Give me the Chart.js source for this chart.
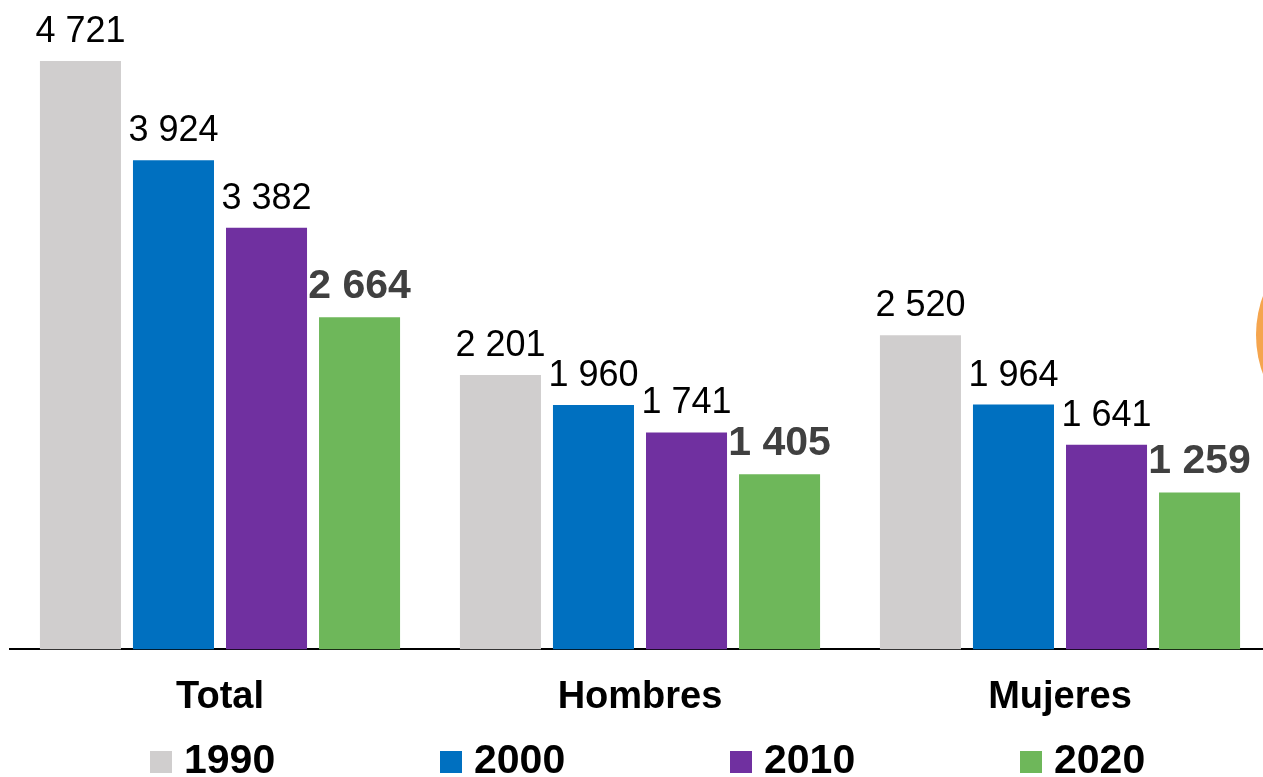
<!DOCTYPE html>
<html>
<head>
<meta charset="utf-8">
<script src="https://cdn.jsdelivr.net/npm/chart.js@4"></script>
<style>
  html, body { margin: 0; padding: 0; background: #fff; overflow: hidden; }
  #wrap { width: 1270px; height: 777px; position: relative; }
</style>
</head>
<body>
<div id="wrap"><canvas id="chart"></canvas></div>
<script>
'use strict';

// categories and series
const categories = ['Total', 'Hombres', 'Mujeres'];
const years = ['1990', '2000', '2010', '2020'];

const values1990 = [4721, 2201, 2520];
const values2000 = [3924, 1960, 1964];
const values2010 = [3382, 1741, 1641];
const values2020 = [2664, 1405, 1259];

const colors = ['#D0CECE', '#0070C0', '#7030A0', '#6EB75A'];

const FONT = 'Arial, "Liberation Sans", sans-serif';

function formatNum(v) {
  return v.toString().replace(/\B(?=(\d{3})+(?!\d))/g, ' ');
}

// value labels over the bars
const barLabels = {
  id: 'barLabels',
  afterDatasetsDraw(chart) {
    let ctx = chart.ctx;
    ctx.save();
    ctx.textAlign = 'center';
    ctx.textBaseline = 'alphabetic';
    chart.data.datasets.forEach((ds, i) => {
      let meta = chart.getDatasetMeta(i);
      let last = i === chart.data.datasets.length - 1;
      ctx.font = last ? 'bold 41px ' + FONT : '36px ' + FONT;
      ctx.fillStyle = last ? '#404040' : '#000';
      meta.data.forEach((bar, j) => {
        ctx.fillText(formatNum(ds.data[j]), bar.x, bar.y - 19);
      });
    });
    ctx.restore();
  }
};

// legend along the bottom, spaced like the original slide
const bottomLegend = {
  id: 'bottomLegend',
  afterDraw(chart) {
    let ctx = chart.ctx;
    ctx.save();
    ctx.font = 'bold 41px ' + FONT;
    ctx.textBaseline = 'middle';
    ctx.textAlign = 'left';
    let startX = 150;
    let pitch = 290;
    chart.data.datasets.forEach((ds, i) => {
      let x = startX + i * pitch;
      ctx.fillStyle = ds.backgroundColor;
      ctx.fillRect(x, 751, 22, 22);
      ctx.fillStyle = '#000';
      ctx.fillText(ds.label, x + 34, 762);
    });
    // piece of the neighbouring slide shape at the right edge
    ctx.fillStyle = '#F5A54E';
    ctx.beginPath();
    ctx.arc(1370, 335, 114, 0, Math.PI * 2);
    ctx.fill();
    ctx.restore();
  }
};

const allSeries = [values1990, values2000, values2010, values2020];

let datasets = [];
for (let i = 0; i < years.length; i++) {
  datasets.push({
    label: years[i],
    data: allSeries[i],
    backgroundColor: colors[i],
    borderWidth: 0,
    categoryPercentage: 0.886,
    barPercentage: 0.871
  });
}

new Chart(document.getElementById('chart'), {
  type: 'bar',
  data: { labels: categories, datasets: datasets },
  plugins: [barLabels, bottomLegend],
  options: {
    responsive: true,
    maintainAspectRatio: false,
    animation: false,
    layout: { padding: { left: 10, right: 0, top: 0, bottom: 32 } },
    plugins: {
      legend: { display: false },
      tooltip: { enabled: false }
    },
    scales: {
      x: {
        grid: { display: false, drawTicks: false },
        border: { display: true, color: '#000', width: 2 },
        ticks: {
          color: '#000',
          padding: 25,
          font: { family: FONT, size: 38, weight: 'bold' }
        }
      },
      y: {
        display: false,
        min: 0,
        max: 5210
      }
    }
  }
});
</script>
</body>
</html>
